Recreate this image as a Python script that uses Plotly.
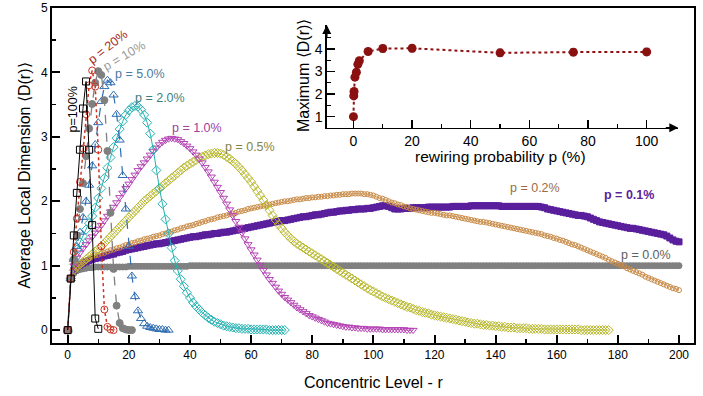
import plotly.graph_objects as go

# ---------------- data ----------------
d_p100 = [0, 0.8, 1.47, 2.13, 2.8, 3.44, 3.86, 2.8, 1.63, 0.18, 0.02]
d_p20 = [0, 0.8, 1.21, 1.73, 2.3, 2.82, 3.35, 3.8, 4.03, 3.78, 2.8, 1.3, 0.32, 0.05, 0.01, 0.0]
d_p10 = [0, 0.8, 1.1, 1.47, 1.88, 2.28, 2.7, 3.13, 3.51, 3.84, 4.02, 3.96, 3.57, 2.78, 1.82,
         0.95, 0.38, 0.11, 0.03, 0.01, 0.0, 0.0]
d_p5 = [0, 0.8, 1.1, 1.3, 1.52, 1.75, 2.0, 2.25, 2.55, 2.88, 3.22, 3.55, 3.78, 3.88, 3.84,
        3.65, 3.35, 2.95, 2.4, 1.88, 1.3, 0.84, 0.52, 0.3, 0.18, 0.1, 0.06, 0.04, 0.03, 0.02,
        0.01, 0.01, 0.0, 0.0]
d_p2 = [0, 0.8, 1.1, 1.25, 1.36, 1.46, 1.56, 1.66, 1.77, 1.9,
        2.05, 2.2, 2.36, 2.52, 2.68, 2.84, 2.98, 3.12, 3.24, 3.34,
        3.41, 3.46, 3.48, 3.47, 3.42, 3.34, 3.22, 3.05, 2.8, 2.48,
        2.2, 1.96, 1.72, 1.5, 1.28, 1.08, 0.92, 0.79, 0.68, 0.58,
        0.5, 0.43, 0.37, 0.32, 0.27, 0.23, 0.19, 0.16, 0.13, 0.11,
        0.09, 0.07, 0.06, 0.05, 0.04, 0.03, 0.03, 0.02, 0.02, 0.02,
        0.01, 0.01, 0.01, 0.01, 0.01, 0.01, 0.0, 0.0, 0.0, 0.0, 0.0, 0.0]
d_p1 = [0, 0.8, 1.0, 1.12, 1.2, 1.27, 1.33, 1.39, 1.45, 1.51,
        1.57, 1.63, 1.7, 1.77, 1.84, 1.91, 1.98, 2.06, 2.13, 2.2,
        2.27, 2.34, 2.41, 2.48, 2.54, 2.6, 2.66, 2.72, 2.78, 2.83,
        2.88, 2.92, 2.95, 2.97, 2.98, 2.97, 2.96, 2.93, 2.9, 2.86,
        2.82, 2.77, 2.72, 2.66, 2.6, 2.53, 2.46, 2.38, 2.3, 2.22,
        2.14, 2.05, 1.96, 1.87, 1.78, 1.69, 1.6, 1.51, 1.42, 1.33,
        1.25, 1.17, 1.09, 1.01, 0.93, 0.86, 0.79, 0.73, 0.67, 0.61,
        0.56, 0.51, 0.47, 0.43, 0.39, 0.35, 0.32, 0.29, 0.26, 0.23,
        0.21, 0.19, 0.17, 0.15, 0.13, 0.11, 0.1, 0.09, 0.08, 0.07,
        0.06, 0.05, 0.05, 0.04, 0.04, 0.03, 0.03, 0.03, 0.02, 0.02,
        0.02, 0.02, 0.02, 0.01, 0.01, 0.01, 0.01, 0.01, 0.01, 0.01,
        0.01, 0.0, 0.0, 0.0]
d_p05 = [0, 0.8, 0.93, 0.98, 1.02, 1.06, 1.1, 1.14, 1.18, 1.22,
         1.26, 1.3, 1.35, 1.4, 1.45, 1.5, 1.55, 1.6, 1.65, 1.7,
         1.75, 1.8, 1.85, 1.9, 1.95, 2.0, 2.04, 2.08, 2.12, 2.16,
         2.2, 2.24, 2.28, 2.32, 2.36, 2.4, 2.44, 2.48, 2.52, 2.55,
         2.58, 2.61, 2.64, 2.67, 2.69, 2.71, 2.73, 2.74, 2.75, 2.75,
         2.74, 2.72, 2.69, 2.66, 2.62, 2.58, 2.53, 2.48, 2.42, 2.36,
         2.3, 2.23, 2.16, 2.09, 2.02, 1.94, 1.86, 1.78, 1.71, 1.64,
         1.58, 1.52, 1.47, 1.42, 1.38, 1.34, 1.31, 1.28, 1.25, 1.22,
         1.19, 1.16, 1.13, 1.1, 1.07, 1.04, 1.01, 0.98, 0.95, 0.92,
         0.89, 0.86, 0.83, 0.8, 0.77, 0.74, 0.71, 0.68, 0.65, 0.62,
         0.6, 0.57, 0.55, 0.52, 0.5, 0.48, 0.46, 0.44, 0.42, 0.4,
         0.38, 0.36, 0.35, 0.33, 0.31, 0.3, 0.28, 0.27, 0.26, 0.24,
         0.23, 0.22, 0.21, 0.2, 0.19, 0.18, 0.17, 0.16, 0.15, 0.14,
         0.13, 0.12, 0.11, 0.1, 0.1, 0.09, 0.08, 0.08, 0.07, 0.07,
         0.06, 0.06, 0.05, 0.05, 0.04, 0.04, 0.04, 0.03, 0.03, 0.03,
         0.03, 0.02, 0.02, 0.02, 0.02, 0.02, 0.01, 0.01, 0.01, 0.01,
         0.01, 0.01, 0.01, 0.01, 0.01, 0.01, 0.01, 0.01, 0.0, 0.0,
         0.0, 0.0, 0.0, 0.0, 0.0, 0.0, 0.0, 0.0]
d_p02 = [0, 0.8, 0.92, 0.98, 1.02, 1.05, 1.08, 1.11, 1.14, 1.16,
         1.17, 1.19, 1.2, 1.22, 1.24, 1.25, 1.27, 1.28, 1.3, 1.32,
         1.33, 1.35, 1.36, 1.38, 1.39, 1.41, 1.42, 1.43, 1.45, 1.46,
         1.47, 1.49, 1.5, 1.52, 1.53, 1.55, 1.56, 1.58, 1.59, 1.61,
         1.62, 1.63, 1.65, 1.66, 1.68, 1.69, 1.71, 1.72, 1.73, 1.75,
         1.76, 1.77, 1.78, 1.8, 1.81, 1.82, 1.84, 1.85, 1.86, 1.88,
         1.89, 1.9, 1.91, 1.92, 1.93, 1.94, 1.95, 1.96, 1.97, 1.98,
         1.99, 2.0, 2.0, 2.01, 2.02, 2.03, 2.03, 2.04, 2.05, 2.05,
         2.06, 2.06, 2.07, 2.07, 2.08, 2.08, 2.09, 2.09, 2.1, 2.1,
         2.11, 2.11, 2.11, 2.12, 2.12, 2.12, 2.12, 2.11, 2.11, 2.1,
         2.09, 2.07, 2.05, 2.04, 2.02, 2.0, 1.98, 1.97, 1.95, 1.94,
         1.92, 1.91, 1.89, 1.88, 1.87, 1.86, 1.85, 1.84, 1.83, 1.82,
         1.82, 1.81, 1.8, 1.79, 1.78, 1.78, 1.77, 1.76, 1.75, 1.74,
         1.73, 1.72, 1.71, 1.7, 1.69, 1.68, 1.68, 1.67, 1.66, 1.65,
         1.64, 1.63, 1.62, 1.61, 1.6, 1.59, 1.58, 1.57, 1.56, 1.55,
         1.54, 1.53, 1.52, 1.51, 1.5, 1.49, 1.47, 1.46, 1.45, 1.43,
         1.42, 1.4, 1.39, 1.37, 1.35, 1.33, 1.32, 1.3, 1.28, 1.26,
         1.24, 1.22, 1.2, 1.18, 1.16, 1.14, 1.12, 1.09, 1.07, 1.05,
         1.03, 1.01, 0.99, 0.96, 0.94, 0.92, 0.9, 0.88, 0.86, 0.83,
         0.81, 0.79, 0.77, 0.75, 0.73, 0.71, 0.69, 0.67, 0.65, 0.64,
         0.62]
d_p01 = [0, 0.8, 0.93, 0.98, 1.01, 1.04, 1.06, 1.08, 1.1, 1.11,
         1.12, 1.13, 1.15, 1.16, 1.17, 1.18, 1.2, 1.21, 1.22, 1.24,
         1.25, 1.26, 1.27, 1.28, 1.29, 1.3, 1.31, 1.32, 1.33, 1.34,
         1.34, 1.35, 1.36, 1.37, 1.38, 1.39, 1.4, 1.41, 1.42, 1.43,
         1.44, 1.45, 1.45, 1.46, 1.47, 1.48, 1.48, 1.49, 1.5, 1.5,
         1.51, 1.52, 1.52, 1.53, 1.54, 1.55, 1.56, 1.57, 1.58, 1.59,
         1.6, 1.61, 1.62, 1.63, 1.64, 1.65, 1.66, 1.67, 1.68, 1.69,
         1.7, 1.7, 1.71, 1.72, 1.73, 1.74, 1.75, 1.76, 1.76, 1.77,
         1.78, 1.79, 1.79, 1.8, 1.81, 1.82, 1.83, 1.83, 1.84, 1.85,
         1.85, 1.86, 1.86, 1.87, 1.87, 1.88, 1.88, 1.88, 1.89, 1.89,
         1.9, 1.91, 1.92, 1.93, 1.93, 1.92, 1.9, 1.88, 1.88, 1.88,
         1.89, 1.89, 1.89, 1.9, 1.9, 1.9, 1.9, 1.9, 1.91, 1.91,
         1.91, 1.91, 1.91, 1.91, 1.91, 1.91, 1.92, 1.92, 1.92, 1.92,
         1.92, 1.92, 1.93, 1.93, 1.93, 1.93, 1.93, 1.93, 1.93, 1.93,
         1.93, 1.93, 1.92, 1.92, 1.92, 1.92, 1.92, 1.92, 1.92, 1.92,
         1.92, 1.92, 1.92, 1.92, 1.92, 1.91, 1.9, 1.88, 1.87, 1.86,
         1.85, 1.84, 1.83, 1.82, 1.81, 1.8, 1.79, 1.78, 1.78, 1.77,
         1.76, 1.74, 1.72, 1.7, 1.68, 1.67, 1.66, 1.65, 1.64, 1.63,
         1.62, 1.61, 1.6, 1.59, 1.58, 1.58, 1.57, 1.56, 1.55, 1.54,
         1.53, 1.52, 1.51, 1.5, 1.49, 1.48, 1.46, 1.43, 1.4, 1.38,
         1.37]
d_p00 = [0, 0.8, 0.88, 0.92, 0.94, 0.95, 0.96, 0.97, 0.97, 0.98,
         0.98, 0.98, 0.98, 0.98, 0.98, 0.98, 0.98, 0.98, 0.98, 0.98,
         0.99, 0.99, 0.99, 0.99, 0.99, 0.99, 0.99, 0.99, 0.99, 0.99,
         0.99, 0.99, 0.99, 0.99, 0.99, 0.99, 0.99, 0.99, 0.99, 0.99,
         1.0, 1.0, 1.0, 1.0, 1.0, 1.0, 1.0, 1.0, 1.0, 1.0,
         1.0, 1.0, 1.0, 1.0, 1.0, 1.0, 1.0, 1.0, 1.0, 1.0,
         1.0, 1.0, 1.0, 1.0, 1.0, 1.0, 1.0, 1.0, 1.0, 1.0,
         1.0, 1.0, 1.0, 1.0, 1.0, 1.0, 1.0, 1.0, 1.0, 1.0,
         1.0, 1.0, 1.0, 1.0, 1.0, 1.0, 1.0, 1.0, 1.0, 1.0,
         1.0, 1.0, 1.0, 1.0, 1.0, 1.0, 1.0, 1.0, 1.0, 1.0,
         1.0, 1.0, 1.0, 1.0, 1.0, 1.0, 1.0, 1.0, 1.0, 1.0,
         1.0, 1.0, 1.0, 1.0, 1.0, 1.0, 1.0, 1.0, 1.0, 1.0,
         1.0, 1.0, 1.0, 1.0, 1.0, 1.0, 1.0, 1.0, 1.0, 1.0,
         1.0, 1.0, 1.0, 1.0, 1.0, 1.0, 1.0, 1.0, 1.0, 1.0,
         1.0, 1.0, 1.0, 1.0, 1.0, 1.0, 1.0, 1.0, 1.0, 1.0,
         1.0, 1.0, 1.0, 1.0, 1.0, 1.0, 1.0, 1.0, 1.0, 1.0,
         1.0, 1.0, 1.0, 1.0, 1.0, 1.0, 1.0, 1.0, 1.0, 1.0,
         1.0, 1.0, 1.0, 1.0, 1.0, 1.0, 1.0, 1.0, 1.0, 1.0,
         1.0, 1.0, 1.0, 1.0, 1.0, 1.0, 1.0, 1.0, 1.0, 1.0,
         1.0, 1.0, 1.0, 1.0, 1.0, 1.0, 1.0, 1.0, 1.0, 1.0,
         1.0]

# inset: maximum <D(r)> vs rewiring probability
inset_p = [0, 0.1, 0.2, 0.5, 1, 1.5, 2, 5, 10, 20, 50, 75, 100]
inset_maxD = [1.0, 1.92, 2.12, 2.75, 2.97, 3.32, 3.48, 3.89, 4.02, 4.03, 3.83, 3.86, 3.87]
inset_err = [0.03, 0.05, 0.05, 0.06, 0.06, 0.08, 0.08, 0.12, 0.15, 0.15, 0.15, 0.15, 0.15]

x_ticks = [0, 20, 40, 60, 80, 100, 120, 140, 160, 180, 200]
y_ticks = [0, 1, 2, 3, 4, 5]
inset_x_ticks = [0, 20, 40, 60, 80, 100]
inset_y_ticks = [1, 2, 3, 4]

FONT = "Liberation Sans, Arial, Helvetica, sans-serif"

series = [
    # values, colour, marker symbol, marker size, line dash, line width
    (d_p00, "#808080", "circle", 6, "solid", 1.0),
    (d_p01, "#5a1f9c", "square", 6, "solid", 1.0),
    (d_p02, "#c98a45", "circle-open", 5, "solid", 0.8),
    (d_p05, "#b8b82c", "diamond-open", 7, "solid", 0.8),
    (d_p1, "#b444b4", "triangle-down-open", 7, "solid", 0.8),
    (d_p2, "#26b2b2", "diamond-open", 7, "solid", 1.0),
    (d_p5, "#2f6db3", "triangle-up-open", 8, "dash", 1.2),
    (d_p10, "#808080", "circle", 7, "dash", 1.3),
    (d_p20, "#cc3322", "circle-open", 7, "dot", 1.5),
    (d_p100, "#000000", "square-open", 7, "solid", 1.0),
]

fig = go.Figure()
for vals, col, sym, size, dash, lw in series:
    fig.add_trace(go.Scatter(
        x=list(range(len(vals))), y=vals, mode="lines+markers",
        line=dict(color=col, width=lw, dash=dash),
        marker=dict(symbol=sym, size=size, color=col, line=dict(color=col, width=1)),
        showlegend=False, xaxis="x", yaxis="y"))

fig.add_trace(go.Scatter(
    x=inset_p, y=inset_maxD, mode="lines+markers",
    line=dict(color="#8b1010", width=2, dash="dot"),
    marker=dict(symbol="circle", size=9, color="#8b1010"),
    error_y=dict(type="data", array=inset_err, visible=True, color="#a8a8a8",
                 thickness=1.5, width=3),
    showlegend=False, xaxis="x2", yaxis="y2"))

fig.update_layout(
    width=703, height=396,
    margin=dict(l=52, r=9, t=8, b=53, autoexpand=False),
    paper_bgcolor="white", plot_bgcolor="white",
    font=dict(family=FONT, size=12, color="black"),
    showlegend=False,
    xaxis=dict(domain=[0, 1], range=[-5.14, 204.9], tickvals=x_ticks, automargin=False,
               ticks="inside", ticklen=8, tickwidth=2, tickcolor="black",
               minor=dict(tickvals=[10, 30, 50, 70, 90, 110, 130, 150, 170, 190],
                          ticks="inside", ticklen=4, tickwidth=1.5, tickcolor="black"),
               showline=True, linewidth=2, linecolor="black", mirror=True,
               showgrid=False, zeroline=False, tickfont=dict(size=12)),
    yaxis=dict(domain=[0, 1], range=[-0.2, 5.0], tickvals=y_ticks, automargin=False,
               ticks="inside", ticklen=8, tickwidth=2, tickcolor="black",
               minor=dict(tickvals=[0.5, 1.5, 2.5, 3.5, 4.5],
                          ticks="inside", ticklen=4, tickwidth=1.5, tickcolor="black"),
               showline=True, linewidth=2, linecolor="black", mirror=True,
               showgrid=False, zeroline=False, tickfont=dict(size=12)),
    xaxis2=dict(domain=[0.428, 0.9756], anchor="y2", range=[-9.1, 110.8], automargin=False,
                tickvals=inset_x_ticks, ticks="inside", ticklen=8, tickwidth=1.5,
                tickcolor="black",
                minor=dict(tickvals=[10, 30, 50, 70, 90], ticks="inside", ticklen=4,
                           tickwidth=1.2, tickcolor="black"),
                showline=True, linewidth=1.5, linecolor="black", mirror=False,
                showgrid=False, zeroline=False, tickfont=dict(size=14)),
    yaxis2=dict(domain=[0.6427, 0.949], anchor="x2", range=[0.51, 5.06], automargin=False,
                tickvals=inset_y_ticks, ticks="inside", ticklen=8, tickwidth=1.5,
                tickcolor="black",
                minor=dict(tickvals=[1.5, 2.5, 3.5, 4.5], ticks="inside", ticklen=4,
                           tickwidth=1.2, tickcolor="black"),
                showline=True, linewidth=1.5, linecolor="black", mirror=False,
                showgrid=False, zeroline=False, tickfont=dict(size=14)),
)

annotations = [
    # axis titles
    dict(text="Concentric Level - r", xref="paper", yref="paper", x=0.5, y=-0.119,
         showarrow=False, font=dict(size=16), xanchor="center", yanchor="middle"),
    dict(text="Average Local Dimension ⟨D(r)⟩", xref="paper", yref="paper",
         x=-0.0436, y=0.5, textangle=-90, showarrow=False, font=dict(size=16),
         xanchor="center", yanchor="middle"),
    dict(text="rewiring probability p (%)", xref="x2", yref="paper", x=50, y=0.556,
         showarrow=False, font=dict(size=15.5), xanchor="center", yanchor="middle"),
    dict(text="Maximum ⟨D(r)⟩", xref="paper", yref="paper", x=0.391, y=0.797,
         textangle=-90, showarrow=False, font=dict(size=16),
         xanchor="center", yanchor="middle"),
    # inset axis arrows
    dict(text="", xref="x2", yref="y2", x=110.8, y=0.51, ax=-14, ay=0,
         showarrow=True, arrowhead=2, arrowsize=1.2, arrowwidth=1.5, arrowcolor="black"),
    dict(text="", xref="x2", yref="y2", x=-9.1, y=5.06, ax=0, ay=14,
         showarrow=True, arrowhead=2, arrowsize=1.2, arrowwidth=1.5, arrowcolor="black"),
]

labels = [
    # text, x, y, colour, angle, bold
    ("p=100%", 1.83, 3.43, "#000000", -90, False),
    ("p = 20%", 13.2, 4.39, "#a8281c", -38, False),
    ("p = 10%", 18.4, 4.26, "#9a9a9a", -30, False),
    ("p = 5.0%", 23.7, 3.98, "#4d7ba0", 0, False),
    ("p = 2.0%", 30.2, 3.61, "#3d7f7d", 0, False),
    ("p = 1.0%", 42.3, 3.13, "#a040a0", 0, False),
    ("p = 0.5%", 59.7, 2.84, "#858545", 0, False),
    ("p = 0.2%", 152.9, 2.2, "#9c6b45", 0, False),
    ("p = 0.1%", 183.7, 2.1, "#5b239b", 0, True),
    ("p = 0.0%", 189.2, 1.16, "#606060", 0, False),
]
for txt, lx, ly, col, ang, bold in labels:
    annotations.append(dict(
        text=("<b>%s</b>" % txt) if bold else txt, xref="x", yref="y", x=lx, y=ly,
        textangle=ang, showarrow=False, font=dict(size=12.5, color=col),
        xanchor="center", yanchor="middle"))

fig.update_layout(annotations=annotations)
fig.write_html("out.html",
               config={"displayModeBar": False, "staticPlot": True},
               post_script="document.body.style.margin='0';"
                           "document.body.style.overflow='hidden';")
